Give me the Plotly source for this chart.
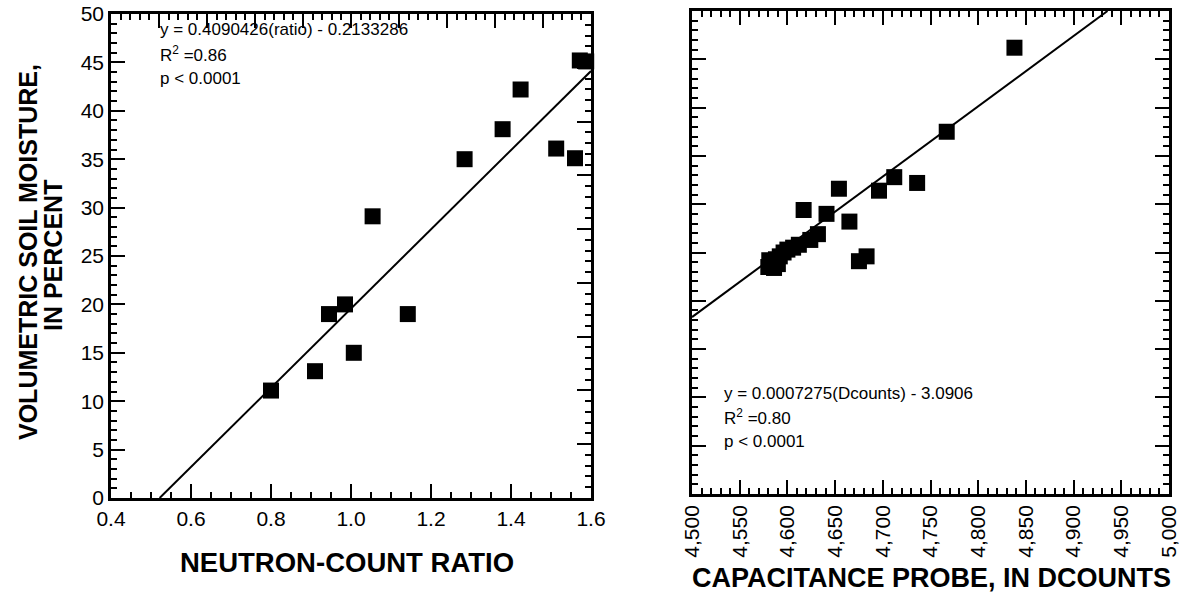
import plotly.graph_objects as go

# Neutron-probe calibration samples
neutron_ratio = [0.80, 0.91, 0.945, 0.985, 1.007, 1.142, 1.054, 1.284, 1.379, 1.424, 1.513, 1.560, 1.572, 1.588]
neutron_moisture = [11.1, 13.1, 19.0, 20.0, 15.0, 19.0, 29.1, 35.0, 38.1, 42.2, 36.1, 35.1, 45.2, 45.1]

# Capacitance-probe calibration samples
cap_dcounts = [4838, 4767, 4736, 4712, 4696, 4654, 4617, 4641, 4665, 4675, 4683,
               4632, 4624, 4612, 4606, 4600, 4596, 4592, 4588, 4585, 4583, 4581, 4580, 4586, 4590]
cap_moisture = [46.2, 37.5, 32.2, 32.8, 31.4, 31.6, 29.4, 29.0, 28.2, 24.1, 24.6,
                26.9, 26.3, 25.8, 25.5, 25.3, 25.0, 24.6, 24.3, 24.0, 23.6, 24.2, 23.5, 23.4, 23.8]

# Regression coefficients (volumetric fraction)
neutron_slope, neutron_icpt = 0.4090426, -0.2133286
cap_slope, cap_icpt = 0.0007275, -3.0906

neutron_text = ["y = 0.4090426(ratio) - 0.2133286", "R<sup>2</sup> =0.86", "p < 0.0001"]
cap_text = ["y = 0.0007275(Dcounts) - 3.0906", "R<sup>2</sup> =0.80", "p < 0.0001"]

FONT = "Liberation Sans, Arial, Helvetica, sans-serif"
W, H = 1182, 598

def px_x(p):
    return p / W

def px_y(p):
    return 1 - p / H

left_dom_x = [px_x(111), px_x(591)]
left_dom_y = [px_y(498), px_y(14)]
right_dom_x = [px_x(692), px_x(1169)]
right_dom_y = [px_y(494), px_y(11)]

fig = go.Figure()

marker = dict(symbol="square", size=16, color="black", line=dict(width=0))

fig.add_trace(go.Scatter(x=neutron_ratio, y=neutron_moisture, mode="markers",
                         marker=marker, xaxis="x", yaxis="y", cliponaxis=False,
                         showlegend=False))
x0 = -neutron_icpt / neutron_slope
x1 = 1.6
fig.add_trace(go.Scatter(x=[x0, x1],
                         y=[100 * (neutron_slope * v + neutron_icpt) for v in (x0, x1)],
                         mode="lines", line=dict(color="black", width=2),
                         xaxis="x", yaxis="y", showlegend=False))

fig.add_trace(go.Scatter(x=cap_dcounts, y=cap_moisture, mode="markers",
                         marker=marker, xaxis="x2", yaxis="y2", cliponaxis=False,
                         showlegend=False))
c0 = 4500
c1 = (0.5 - cap_icpt) / cap_slope
fig.add_trace(go.Scatter(x=[c0, c1],
                         y=[100 * (cap_slope * v + cap_icpt) for v in (c0, c1)],
                         mode="lines", line=dict(color="black", width=2),
                         xaxis="x2", yaxis="y2", showlegend=False))

# empty trace to bring up the auxiliary tick frame of the left panel
fig.add_trace(go.Scatter(x=[], y=[], xaxis="x3", yaxis="y3", showlegend=False))

tickfont = dict(family=FONT, size=21, color="black")

def minor(dt, ln=6):
    return dict(ticks="inside", ticklen=ln, tickwidth=1.5, tickcolor="black", dtick=dt, showgrid=False)

common = dict(showgrid=False, zeroline=False, showline=True, linecolor="black", linewidth=2.5,
              ticks="inside", ticklen=14, tickwidth=2, tickcolor="black", tickfont=tickfont,
              automargin=False)

aux = dict(showticklabels=False, showgrid=False, zeroline=False, showline=False,
           ticks="inside", ticklen=14, tickwidth=2, tickcolor="black", automargin=False)

fig.update_layout(
    template="none",
    width=W, height=H,
    margin=dict(l=0, r=0, t=0, b=0, pad=0),
    paper_bgcolor="white", plot_bgcolor="white",
    font=dict(family=FONT, color="black"),
    xaxis=dict(domain=left_dom_x, anchor="y", range=[0.4, 1.6], dtick=0.2, tick0=0.4,
               tickformat=".1f", mirror=True, minor=minor(0.05), **common),
    yaxis=dict(domain=left_dom_y, anchor="x", range=[0, 50], dtick=5, mirror=True,
               minor=minor(1), **common),
    xaxis3=dict(overlaying="x", side="top", anchor="y", range=[0, 10], dtick=1,
                minor=minor(0.2), **aux),
    yaxis3=dict(overlaying="y", side="right", anchor="x", range=[0, 9], dtick=1,
                minor=minor(0.2), **aux),
    xaxis2=dict(domain=right_dom_x, anchor="y2", range=[4500, 5000], dtick=50, tick0=4500,
                tickformat=",d", tickangle=-90, mirror="ticks", minor=minor(10), **common),
    yaxis2=dict(domain=right_dom_y, anchor="x2", range=[0, 50], dtick=5, mirror="ticks",
                showticklabels=False, minor=minor(1), **common),
)

title_font = dict(family=FONT, size=27.5, color="black")
ann = []
ann.append(dict(text="<b>NEUTRON-COUNT RATIO</b>", x=px_x(347), y=px_y(562), xref="paper", yref="paper",
                showarrow=False, font=title_font, xanchor="center", yanchor="middle"))
ann.append(dict(text="<b>CAPACITANCE PROBE, IN DCOUNTS</b>", x=px_x(931), y=px_y(578), xref="paper",
                yref="paper", showarrow=False, font=dict(family=FONT, size=27, color="black"),
                xanchor="center", yanchor="middle"))
ann.append(dict(text="<b>VOLUMETRIC SOIL MOISTURE,</b>", x=px_x(28), y=px_y(252), xref="paper",
                yref="paper", showarrow=False, textangle=-90,
                font=dict(family=FONT, size=25, color="black"), xanchor="center", yanchor="middle"))
ann.append(dict(text="<b>IN PERCENT</b>", x=px_x(53), y=px_y(256), xref="paper",
                yref="paper", showarrow=False, textangle=-90,
                font=dict(family=FONT, size=25, color="black"), xanchor="center", yanchor="middle"))

stat_font = dict(family=FONT, size=17, color="black")
for i, line in enumerate(neutron_text):
    ann.append(dict(text=line, x=px_x(158), y=px_y(30 + 24 * i), xref="paper", yref="paper",
                    showarrow=False, font=stat_font, xanchor="left", yanchor="middle"))
for i, line in enumerate(cap_text):
    ann.append(dict(text=line, x=px_x(722), y=px_y(393 + 24 * i), xref="paper", yref="paper",
                    showarrow=False, font=stat_font, xanchor="left", yanchor="middle"))

fig.update_layout(annotations=ann)

fig.write_html("out.html")
